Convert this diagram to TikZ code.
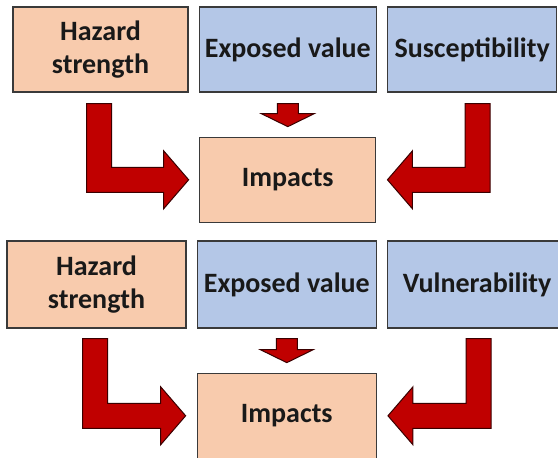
\documentclass[tikz,border=0pt]{standalone}
\usepackage{fontspec}
\setmainfont{Carlito}
\usetikzlibrary{positioning,calc}
\definecolor{peach}{HTML}{F8CBAD}
\definecolor{paleblue}{HTML}{B4C7E7}
\definecolor{arrred}{HTML}{C00000}
\definecolor{arredge}{HTML}{3A0000}
\definecolor{boxedge}{HTML}{3A3A3A}
\tikzstyle{hazbox}=[rectangle, draw=boxedge, fill=peach, line width=1.3pt,
 minimum height=85pt, inner sep=2pt, align=center, text=black!90,
 font=\fontsize{28}{33}\selectfont\bfseries]
\tikzstyle{expbox}=[hazbox, fill=paleblue]
\tikzstyle{bigarrow}=[fill=arrred, draw=arredge, line width=1pt, line join=miter]
% half shaft, half head, head length of the bent arrows
\def\arrshaft{12.5pt}
\def\arrhead{29pt}
\def\arrlen{25pt}
% #1: +1 turns right, -1 turns left; #2 top of shaft; #3 tip
\newcommand{\elbowarrow}[3]{%
 \draw[bigarrow] let \p1=(#2), \p2=(#3) in
  ({\x1-(#1)*\arrshaft},\y1) -- ({\x1+(#1)*\arrshaft},\y1)
  -- ({\x1+(#1)*\arrshaft},{\y2+\arrshaft}) -- ({\x2-(#1)*\arrlen},{\y2+\arrshaft})
  -- ({\x2-(#1)*\arrlen},{\y2+\arrhead}) -- (\x2,\y2)
  -- ({\x2-(#1)*\arrlen},{\y2-\arrhead}) -- ({\x2-(#1)*\arrlen},{\y2-\arrshaft})
  -- ({\x1-(#1)*\arrshaft},{\y2-\arrshaft}) -- cycle;}
% short straight arrow pointing down
\newcommand{\droparrow}[2]{%
 \draw[bigarrow] let \p1=(#1), \p2=(#2) in
  ({\x1-10.5pt},\y1) -- ({\x1+10.5pt},\y1) -- ({\x1+10.5pt},{\y2+13pt})
  -- ({\x1+26.5pt},{\y2+13pt}) -- (\x1,\y2) -- ({\x1-26.5pt},{\y2+13pt})
  -- ({\x1-10.5pt},{\y2+13pt}) -- cycle;}
\begin{document}
\begin{tikzpicture}[x=1pt, y=1pt]
\useasboundingbox (0,0) rectangle (558,458);

%% upper panel
	\node (haz1) [hazbox, minimum width=175pt] at (100.5,408.5) {Hazard\\strength};
	\node (exp1) [expbox, minimum width=177pt, right=10pt of haz1] {Exposed value};
	\node (sus1) [expbox, minimum width=169pt, right=10pt of exp1] {Susceptibility};
	\node (imp1) [hazbox, minimum width=176pt, below=44pt of exp1] {Impacts};

%% lower panel
	\node (haz2) [hazbox, minimum width=179pt, minimum height=87pt] at (96.5,173.5) {Hazard\\strength};
	\node (exp2) [expbox, minimum width=179pt, minimum height=87pt, right=10pt of haz2] {Exposed value};
	\node (vul2) [expbox, minimum width=179pt, minimum height=87pt, right=10pt of exp2] {Vulnerability};
	\node (imp2) [hazbox, minimum width=179pt, below=44pt of exp2] {Impacts};

%arrows
   \elbowarrow{1}{$(haz1.south)+(-1.5,-11)$}{$(imp1.west)+(-10.5,0)$}
   \elbowarrow{-1}{$(sus1.south)+(5.5,-11)$}{$(imp1.east)+(11,0)$}
   \droparrow{$(exp1.south)+(0,-11)$}{$(imp1.north)+(0,10)$}

   \elbowarrow{1}{$(haz2.south)+(-1.5,-10)$}{$(imp2.west)+(-11,0)$}
   \elbowarrow{-1}{$(vul2.south)+(1.5,-10)$}{$(imp2.east)+(11,0)$}
   \droparrow{$(exp2.south)+(0,-10)$}{$(imp2.north)+(0,10)$}

\end{tikzpicture}
\end{document}
